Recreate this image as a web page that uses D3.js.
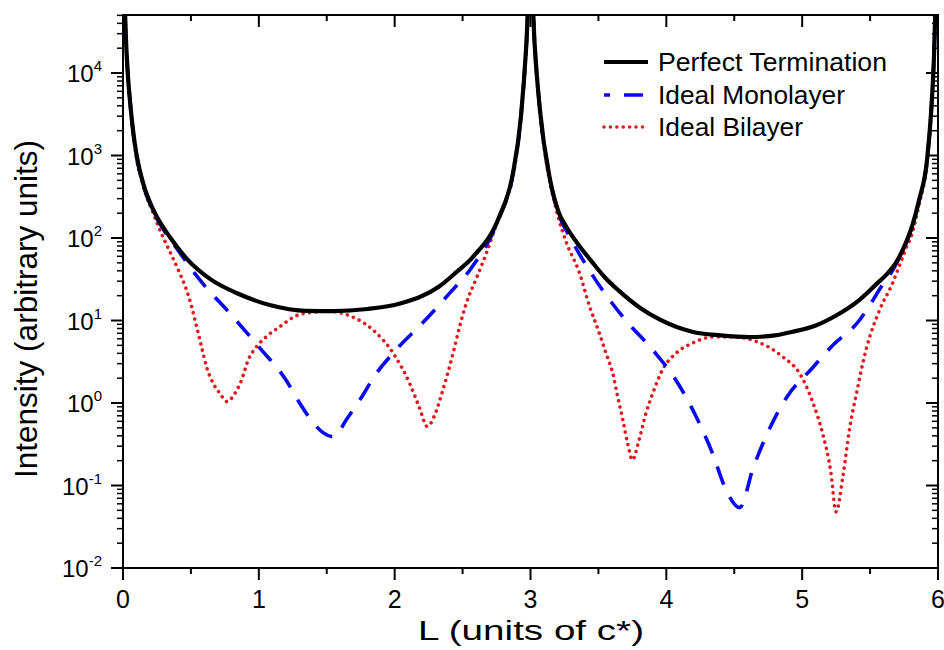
<!DOCTYPE html>
<html lang="en">
<head>
  <meta charset="UTF-8">
  <title>Crystal truncation rods</title>
  <script src="https://d3js.org/d3.v7.min.js"></script>
  <style>
    body { margin: 0; background: #fff; }
    svg { display: block; font-family: "Liberation Sans", Arial, sans-serif; }
  </style>
</head>
<body>
  <svg id="chart"></svg>

  <script>
    // L values and intensities
    const perfectL = [0.01, 0.02, 0.035, 0.051, 0.07, 0.088, 0.10, 0.15, 0.22, 0.35, 0.47, 0.64, 0.84, 1.08, 1.35, 1.55, 1.80, 2.04, 2.33, 2.45, 2.58, 2.77, 2.87, 2.93, 2.97, 2.99,
      3.01, 3.03, 3.07, 3.14, 3.21, 3.26, 3.36, 3.45, 3.55, 3.65, 3.80, 3.95, 4.19, 4.40, 4.61, 4.80, 4.93, 5.10, 5.25, 5.42, 5.55, 5.62, 5.69, 5.76, 5.81, 5.86, 5.92, 5.95, 5.97, 5.985];
    const perfectI = [1e5, 3e4, 1e4, 4700, 2300, 1350, 1020, 450, 225, 100, 56, 32, 21.4, 15.4, 13.1, 13.0, 13.8, 16.1, 26, 38, 60, 181, 600, 3000, 23000, 1e5,
      1e5, 23000, 3500, 550, 200, 140, 80, 52, 33, 23, 14.5, 10.3, 7.3, 6.6, 6.3, 6.6, 7.3, 8.7, 11.5, 17.7, 28, 36, 50, 85, 140, 285, 900, 3500, 1.5e4, 1e5];

    const monoL = [0.01, 0.02, 0.035, 0.051, 0.088, 0.15, 0.22, 0.30, 0.395, 0.566, 0.787, 1.0, 1.2, 1.30, 1.40, 1.47, 1.55, 1.65, 1.76, 1.85, 2.02, 2.21, 2.40, 2.58, 2.77, 2.87, 2.93, 2.97, 2.99,
      3.01, 3.03, 3.07, 3.14, 3.21, 3.28, 3.36, 3.53, 3.70, 3.90, 4.07, 4.22, 4.34, 4.44, 4.54, 4.64, 4.75, 4.89, 5.07, 5.22, 5.42, 5.49, 5.615, 5.66, 5.72, 5.78, 5.86, 5.92, 5.95, 5.97, 5.985];
    const monoI = [1e5, 3e4, 1e4, 4700, 1300, 440, 215, 125, 75, 31, 12.2, 4.8, 1.9, 1.0, 0.58, 0.44, 0.39, 0.65, 1.2, 2.1, 4.6, 9.5, 21, 47, 175, 590, 3000, 23000, 1e5,
      1e5, 23000, 3500, 550, 190, 110, 64, 23.4, 10.1, 4.4, 1.9, 0.68, 0.245, 0.088, 0.054, 0.165, 0.45, 1.2, 2.6, 4.9, 10, 14.7, 31, 39, 60, 100, 280, 900, 3500, 1.5e4, 1e5];

    const biL = [0.01, 0.02, 0.035, 0.051, 0.088, 0.15, 0.22, 0.284, 0.346, 0.407, 0.468, 0.505, 0.542, 0.578, 0.615, 0.664, 0.713, 0.765, 0.824, 0.873, 0.921, 0.983, 1.057, 1.154, 1.28, 1.40, 1.52,
      1.67, 1.84, 1.99, 2.11, 2.18, 2.24, 2.30, 2.355, 2.43, 2.478, 2.527, 2.60, 2.674, 2.748, 2.82, 2.87, 2.93, 2.97, 2.99,
      3.01, 3.03, 3.07, 3.14, 3.164, 3.21, 3.262, 3.36, 3.434, 3.507, 3.556, 3.605, 3.642, 3.68, 3.716, 3.75, 3.80, 3.85, 3.90, 3.97, 4.07, 4.19, 4.34, 4.50,
      4.66, 4.86, 4.98, 5.08, 5.15, 5.21, 5.25, 5.30, 5.35, 5.40, 5.47, 5.57, 5.664, 5.713, 5.76, 5.81, 5.86, 5.92, 5.95, 5.97, 5.985];
    const biI = [1e5, 3e4, 1e4, 4600, 1250, 420, 205, 112, 68, 41, 23.4, 14.7, 8.4, 4.8, 2.75, 1.73, 1.31, 1.04, 1.31, 1.9, 3.3, 4.8, 6.4, 8.4, 11.5, 12.6, 12.9,
      11.4, 7.7, 4.0, 1.73, 0.90, 0.52, 0.75, 1.44, 4.0, 8.4, 16.1, 32, 65, 145, 289, 540, 3000, 23000, 1e5,
      1e5, 23000, 3400, 500, 330, 165, 90, 38, 15, 7.0, 4.0, 2.3, 1.19, 0.62, 0.32, 0.204, 0.36, 0.75, 1.31, 2.5, 4.0, 5.3, 6.3, 6.3,
      5.6, 3.6, 2.3, 1.0, 0.43, 0.15, 0.048, 0.13, 0.5, 1.31, 4.4, 13.4, 28, 45, 72, 114, 250, 850, 3300, 1.5e4, 1e5];

    const seriesNames = ["Perfect Termination", "Ideal Monolayer", "Ideal Bilayer"];
    const legendWidths = [229, 187, 145];
    const xTicks = [0, 1, 2, 3, 4, 5, 6];
    const yTickExps = [-2, -1, 0, 1, 2, 3, 4];

    const width = 944, height = 650;
    const margin = { top: 15, right: 6, bottom: 82, left: 123 };

    const svg = d3.select("#chart")
      .attr("width", width)
      .attr("height", height);

    const x = d3.scaleLinear().domain([0, 6]).range([margin.left, width - margin.right]);
    const y = d3.scaleLog().domain([0.01, 5.05e4]).range([height - margin.bottom, margin.top]);

    const x0 = margin.left, x1 = width - margin.right;
    const y0 = height - margin.bottom, y1 = margin.top;

    svg.append("clipPath").attr("id", "plotClip")
      .append("rect")
      .attr("x", x0).attr("y", y1)
      .attr("width", x1 - x0).attr("height", y0 - y1);

    const series = [
      { name: seriesNames[0], pts: d3.zip(perfectL, perfectI), color: "#000", width: 4.2, dash: null, cap: "butt" },
      { name: seriesNames[1], pts: d3.zip(monoL, monoI), color: "#0808f2", width: 3.6, dash: "19,14", cap: "butt" },
      { name: seriesNames[2], pts: d3.zip(biL, biI), color: "#e0191e", width: 3.6, dash: "0.01,6.4", cap: "round" }
    ];

    const line = d3.line()
      .x(d => x(d[0]))
      .y(d => y(d[1]))
      .curve(d3.curveMonotoneX);

    const plot = svg.append("g").attr("clip-path", "url(#plotClip)");
    // draw bilayer first so the black curve stays on top
    [series[2], series[1], series[0]].forEach(s => {
      plot.append("path")
        .datum(s.pts)
        .attr("d", line)
        .attr("fill", "none")
        .attr("stroke", s.color)
        .attr("stroke-width", s.width)
        .attr("stroke-linecap", s.cap)
        .attr("stroke-dasharray", s.dash);
    });

    // axes: bottom/left outward, top/right mirrored inward
    const minorX = d3.range(0.5, 6, 1);
    const minorY = [];
    for (let e = -2; e < 5; e++) {
      for (let k = 2; k <= 9; k++) {
        const v = k * Math.pow(10, e);
        if (v <= 5.05e4) minorY.push(v);
      }
    }

    const axisG = svg.append("g").attr("stroke", "#000");

    xTicks.forEach(t => {
      axisG.append("line").attr("x1", x(t)).attr("x2", x(t)).attr("y1", y0).attr("y2", y0 + 12).attr("stroke-width", 2);
      axisG.append("line").attr("x1", x(t)).attr("x2", x(t)).attr("y1", y1).attr("y2", y1 + 12).attr("stroke-width", 2);
    });
    minorX.forEach(t => {
      axisG.append("line").attr("x1", x(t)).attr("x2", x(t)).attr("y1", y0).attr("y2", y0 + 6).attr("stroke-width", 2);
      axisG.append("line").attr("x1", x(t)).attr("x2", x(t)).attr("y1", y1).attr("y2", y1 + 6).attr("stroke-width", 2);
    });
    yTickExps.forEach(e => {
      const v = Math.pow(10, e);
      axisG.append("line").attr("x1", x0 - 12).attr("x2", x0).attr("y1", y(v)).attr("y2", y(v)).attr("stroke-width", 2);
      axisG.append("line").attr("x1", x1 - 12).attr("x2", x1).attr("y1", y(v)).attr("y2", y(v)).attr("stroke-width", 2);
    });
    minorY.forEach(v => {
      axisG.append("line").attr("x1", x0 - 6).attr("x2", x0).attr("y1", y(v)).attr("y2", y(v)).attr("stroke-width", 1.5);
      axisG.append("line").attr("x1", x1 - 6).attr("x2", x1).attr("y1", y(v)).attr("y2", y(v)).attr("stroke-width", 1.5);
    });

    svg.append("rect")
      .attr("x", x0).attr("y", y1)
      .attr("width", x1 - x0).attr("height", y0 - y1)
      .attr("fill", "none")
      .attr("stroke", "#000")
      .attr("stroke-width", 2);

    // tick labels
    svg.append("g")
      .selectAll("text")
      .data(xTicks)
      .join("text")
      .attr("x", d => x(d))
      .attr("y", y0 + 40)
      .attr("text-anchor", "middle")
      .attr("font-size", 25)
      .text(d => d);

    const yl = svg.append("g")
      .selectAll("text")
      .data(yTickExps)
      .join("text")
      .attr("x", x0 - 21)
      .attr("y", d => y(Math.pow(10, d)) + 9)
      .attr("text-anchor", "end")
      .attr("font-size", 24);
    yl.append("tspan").text("10");
    yl.append("tspan")
      .attr("dy", -11)
      .attr("font-size", 15)
      .text(d => d < 0 ? "-" + (-d) : d);

    // axis titles
    svg.append("text")
      .attr("x", 531)
      .attr("y", 640)
      .attr("text-anchor", "middle")
      .attr("font-size", 27)
      .attr("textLength", 226)
      .attr("lengthAdjust", "spacingAndGlyphs")
      .text("L (units of c*)");

    svg.append("text")
      .attr("transform", "translate(37, 309) rotate(-90)")
      .attr("text-anchor", "middle")
      .attr("font-size", 31)
      .attr("textLength", 338)
      .attr("lengthAdjust", "spacingAndGlyphs")
      .text("Intensity (arbitrary units)");

    // legend
    const legend = svg.append("g");
    const legendY = [62, 95, 127];
    series.forEach((s, i) => {
      legend.append("line")
        .attr("x1", 604).attr("x2", 648)
        .attr("y1", legendY[i]).attr("y2", legendY[i])
        .attr("stroke", s.color)
        .attr("stroke-width", s.width)
        .attr("stroke-linecap", s.cap)
        .attr("stroke-dasharray", s.dash)
        .attr("stroke-dashoffset", i === 1 ? 13 : 0);
      legend.append("text")
        .attr("x", 658)
        .attr("y", legendY[i])
        .attr("dy", "0.36em")
        .attr("font-size", 25)
        .attr("textLength", legendWidths[i])
        .attr("lengthAdjust", "spacingAndGlyphs")
        .text(s.name);
    });
  </script>
</body>
</html>
